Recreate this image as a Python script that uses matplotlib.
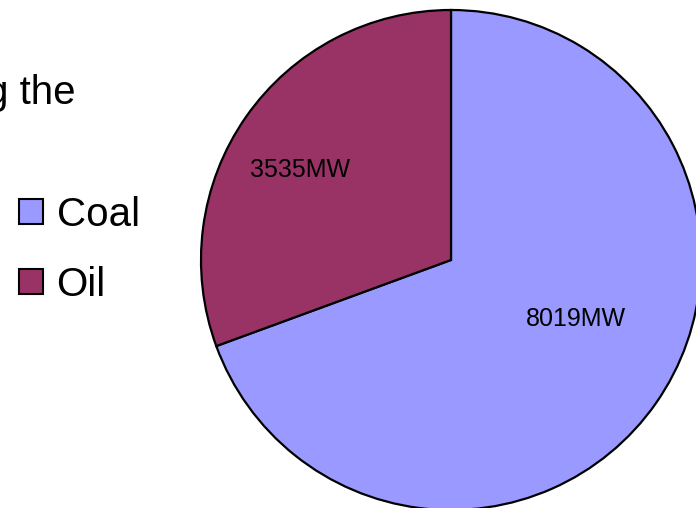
import matplotlib
matplotlib.use("Agg")
import matplotlib.pyplot as plt

plt.rcParams['font.family'] = ['Liberation Sans', 'DejaVu Sans']

# Installed capacity by fuel
categories = ["Coal", "Oil"]
capacity_mw = [8019, 3535]
colors = ["#9999FF", "#993366"]

W, H = 696, 508
fig = plt.figure(figsize=(W / 100, H / 100), dpi=100)

# Pie centred at (451, 260) px with radius 250 px
cx, cy, r = 451, 260, 250
ax = fig.add_axes([(cx - r) / W, (H - cy - r) / H, 2 * r / W, 2 * r / H])
wedges, _ = ax.pie(capacity_mw, colors=colors, startangle=90, counterclock=False,
                   wedgeprops=dict(edgecolor="black", linewidth=1.6))
ax.set_xlim(-1, 1)
ax.set_ylim(-1, 1)
ax.set_aspect("auto")
for w in wedges:
    w.set_clip_on(False)

# value labels inside each slice
label_pos = {"Coal": (0.50, -0.235), "Oil": (-0.605, 0.36)}
for cat, val in zip(categories, capacity_mw):
    x, y = label_pos[cat]
    ax.text(x, y, f"{val}MW", ha="center", va="center", fontsize=18, color="black")

# title fragment at the top-left
fig.text(76 / W, 1 - 104 / H, "g the", ha="right", va="baseline", fontsize=29)

leg = fig.legend(wedges, categories, loc="upper left",
                 bbox_to_anchor=(-1 / W, 1 - 176 / H), frameon=False,
                 fontsize=29, handlelength=0.58, handleheight=0.58,
                 handletextpad=0.35, labelspacing=0.78, borderpad=0)
for h in leg.legend_handles:
    h.set_linewidth(1.5)
    h.set_edgecolor("black")

fig.savefig("out.png", dpi=100)
